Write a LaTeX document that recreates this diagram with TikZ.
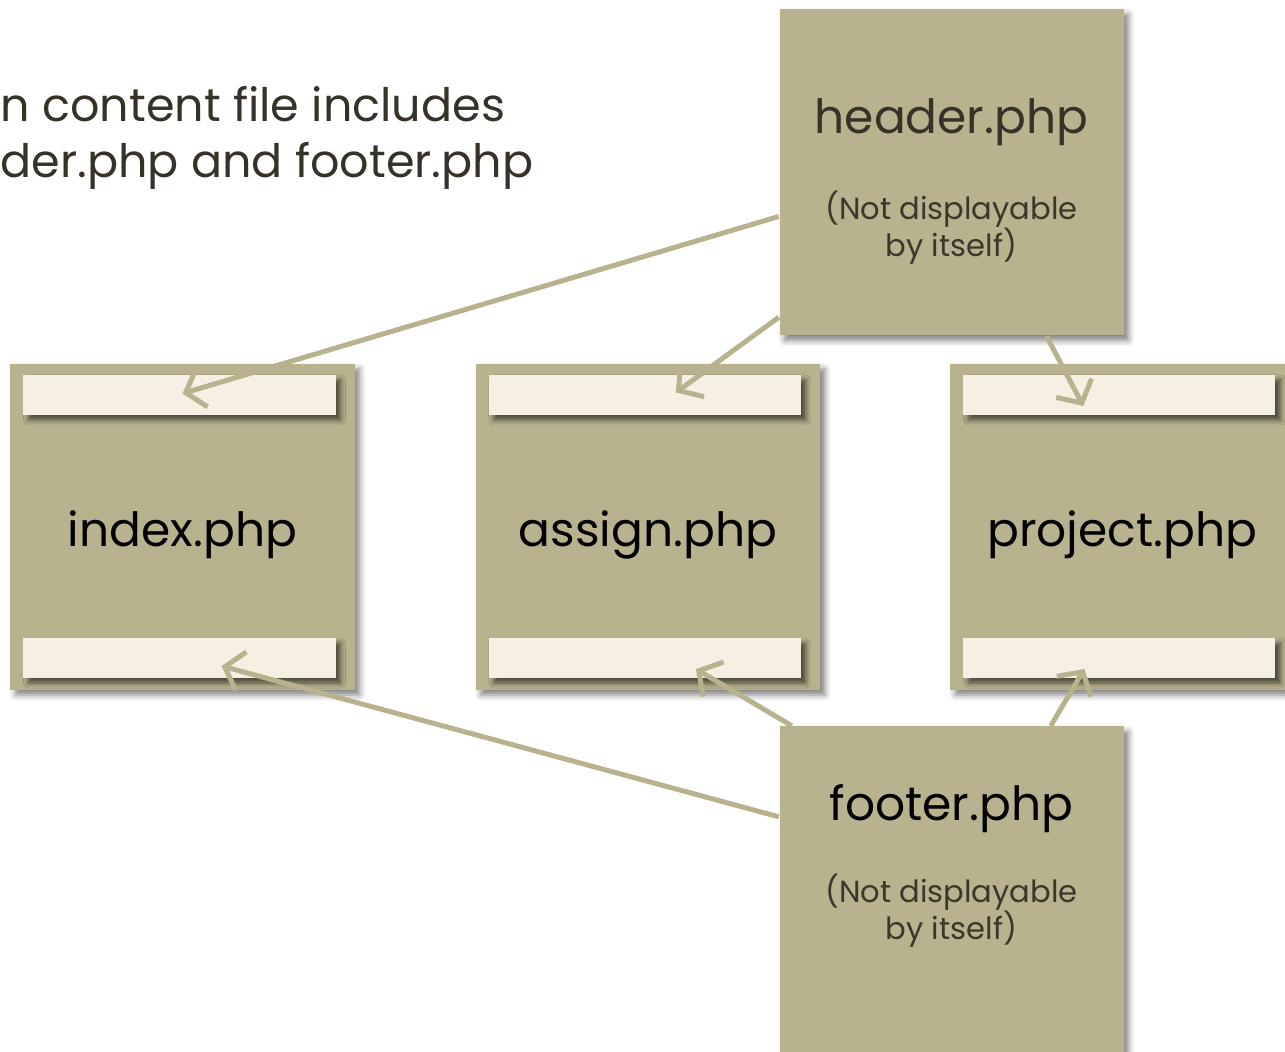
\documentclass[tikz,border=0pt]{standalone}
\usepackage{fontspec}
\setmainfont{Poppins}
\usetikzlibrary{arrows.meta,positioning,shadows.blur}

\definecolor{olive}{RGB}{184,178,142}
\definecolor{cream}{RGB}{246,240,228}
\definecolor{ink}{RGB}{54,50,40}
\definecolor{note}{RGB}{58,56,44}

\tikzset{
  page/.style={rectangle, fill=olive, minimum width=34.4mm, minimum height=32.6mm,
    blur shadow={shadow xshift=0.5mm, shadow yshift=-0.5mm, shadow blur radius=0.6mm, shadow opacity=50}},
  bar/.style={rectangle, fill=cream, minimum width=31.2mm, minimum height=4mm, inner sep=0pt,
    blur shadow={shadow xshift=0.5mm, shadow yshift=-0.5mm, shadow blur radius=0.5mm, shadow opacity=60}},
  fname/.style={text=black, font=\fontsize{13.4}{16}\selectfont},
  notetext/.style={text=note, align=center, font=\fontsize{8.7}{10.6}\selectfont},
  incl/.style={draw=olive, line width=0.5mm, -{Straight Barb[length=1.7mm,width=4mm]}}
}

\begin{document}
\begin{tikzpicture}[x=1mm,y=1mm,node distance=12mm]
  \useasboundingbox (0,0) rectangle (128.5,-105.2);
  \clip (0,0) rectangle (128.5,-105.2);

  % caption at the top left
  \node[anchor=base west, inner sep=0pt, text=ink, align=left,
        font=\fontsize{13.1}{16.2}\selectfont] (caption) at (0,-17.8)
        {n content file includes\\der.php and footer.php};

  % the content pages
  \node[page] (index) at (18.25,-52.7) {};
  \node[page] (assign) [right=of index] {};
  \node[page] (project) [right=12.9mm of assign] {};
  \foreach \p in {index,assign,project}{
    \node[bar, anchor=north west] (\p-top) at ([xshift=1.3mm,yshift=-1.1mm]\p.north west) {};
    \node[bar, anchor=south west] (\p-bot) at ([xshift=1.3mm,yshift=1.2mm]\p.south west) {};
  }
  \node[fname, anchor=base] (index-name) at ([yshift=-2.0mm]index.center) {index.php};
  \node[fname, anchor=base] (assign-name) at ([yshift=-2.0mm]assign.center) {assign.php};
  \node[fname, anchor=base] (project-name) at ([yshift=-2.0mm]project.center) {project.php};

  % the included parts
  \node[page] (header) at (95.15,-17.25) {};
  \node[page] (footer) at (95.15,-88.95) {};
  \node[fname, text=ink, anchor=base] (header-name) at ([yshift=-12.5mm]header.north) {header.php};
  \node[notetext, anchor=base] (header-note) at ([yshift=-24.8mm]header.north) {(Not displayable\\by itself)};
  \node[fname, anchor=base] (footer-name) at ([yshift=-9.5mm]footer.north) {footer.php};
  \node[notetext, anchor=base] (footer-note) at ([yshift=-21.4mm]footer.north) {(Not displayable\\by itself)};

  % includes
  \draw[incl] ([yshift=-4.4mm]header.west) -- ([xshift=0.3mm,yshift=0.15mm]index-top.center);
  \draw[incl] ([yshift=1.9mm]header.south west) -- ([xshift=3.1mm,yshift=0.25mm]assign-top.center);
  \draw[incl] ([xshift=9.5mm]header.south) -- ([xshift=-3.6mm,yshift=-1.1mm]project-top.center);
  \draw[incl] ([yshift=-9.1mm]footer.north west) -- ([xshift=4.2mm,yshift=-0.8mm]index-bot.center);
  \draw[incl] ([xshift=1.3mm]footer.north west) -- ([xshift=5.1mm,yshift=-1.1mm]assign-bot.center);
  \draw[incl] ([xshift=27.2mm]footer.north west) -- ([xshift=-3.5mm,yshift=-1.1mm]project-bot.center);
\end{tikzpicture}
\end{document}
